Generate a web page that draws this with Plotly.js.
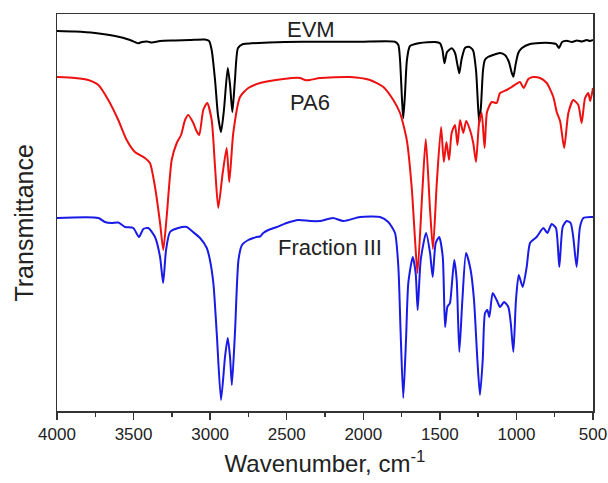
<!DOCTYPE html>
<html>
<head>
<meta charset="utf-8">
<script src="https://cdn.plot.ly/plotly-3.0.1.min.js"></script>
<style>html,body{margin:0;padding:0;background:#fff;}#chart{width:608px;height:483px;}</style>
</head>
<body>
<div id="chart"></div>
<script>
// Wavenumbers (cm-1) and transmittance (arbitrary, offset units)
const evmWn = [4000,3882,3752,3621,3523,3471,3445,3412,3380,3327,3229,3131,3034,3007,2990,2968,2949,2929,2910,2885,2870,2855,2838,2818,2785,2729,2511,2283,2021,1793,1771,1760,1747,1739,1728,1715,1695,1630,1532,1499,1483,1470,1453,1423,1401,1385,1373,1359,1336,1310,1284,1264,1251,1242,1231,1218,1206,1186,1153,1107,1075,1049,1032,1020,1006,988,964,911,846,781,741,722,702,672,637,605,572,541,520,500];
const evmT  = [380,379.5,378,375,371,367.7,369,369.5,368.5,370,370.5,371,371.5,370,361,331,296,279,301,343,326,299,331,363,367,367.7,369,369.3,369.3,369.3,366,351,311,292.7,316,351,365,368,369,367.7,361,347.7,359,362.7,358,346,337.7,351,363,364.3,361,341,306,287.7,306,341,351,354,356,358,356,349,339,334.3,346,358,363,367,368,368,367,363,369,370.3,369,370.5,369.5,371,370,371];

const pa6Wn = [4000,3882,3796,3730,3665,3600,3545,3491,3426,3393,3360,3327,3306,3284,3251,3218,3190,3164,3143,3110,3089,3071,3045,3019,2990,2968,2947,2918,2892,2875,2849,2805,2751,2674,2522,2413,2381,2348,2283,2087,1956,1869,1804,1760,1716,1684,1662,1646,1615,1592,1564,1545,1520,1492,1474,1457,1440,1423,1401,1385,1368,1347,1328,1303,1282,1264,1244,1227,1208,1192,1161,1129,1107,1064,1031,977,953,922,890,846,802,759,737,715,688,661,629,596,574,552,531,518,500];
const pa6T  = [334,333,331,326,311,291,271,259,253,248,224,188,161,194,251,268,276,291,296,288,280,276,301,308,291,244,203,238,263,229,278,314,323,328,332,333,331,331,333,334,331,324,311,298,271,224,171,138,218,272,201,162,228,284,249,269,251,278,286,266,291,278,290,281,268,249,288,298,263,299,309,308,318,321,324,329,323,332,334,333,328,314,299,290,263,298,311,306,288,313,318,310,323];

const fr3Wn = [4000,3730,3687,3643,3600,3556,3502,3465,3436,3404,3360,3327,3307,3288,3262,3208,3153,3112,3066,3022,3004,2979,2957,2929,2903,2885,2870,2858,2838,2815,2792,2751,2718,2696,2674,2653,2620,2565,2500,2424,2348,2283,2198,2130,2021,1891,1837,1793,1771,1756,1739,1721,1706,1677,1658,1645,1625,1590,1564,1547,1527,1504,1481,1466,1451,1434,1423,1406,1390,1373,1353,1329,1299,1277,1255,1238,1220,1205,1190,1177,1155,1129,1107,1081,1053,1037,1020,1003,985,959,933,911,868,824,798,770,742,720,698,672,646,629,607,585,563,508,500];
const fr3T  = [193,193,189,188,188.5,184,183,174,182,183,174,154,128,161,179,183,184,179,173,163,153,128,78,11,54,73,54,26,78,151,166,171,173,174,174.5,178,181,184,188,191,190,190,193,190,194,194,189,178,144,78,13,71,128,154,138,101,151,178,158,134,168,174,154,84,104,108,124,151,131,59,111,158,141,111,51,16,51,98,101,94,118,111,104,109,104,88,59,111,136,124,144,168,174,183,178,187,183,144,184,190,188,174,144,184,193,194,194];

const names = ['EVM', 'PA6', 'Fraction III'];
const xTicks = [4000, 3500, 3000, 2500, 2000, 1500, 1000, 500];

const mk = (x, y, color, name) => ({
  x: x, y: y, type: 'scatter', mode: 'lines', name: name,
  line: {color: color, width: 2, shape: 'spline', smoothing: 0.6},
  hoverinfo: 'x+name'
});

const data = [
  mk(evmWn, evmT, '#000000', names[0]),
  mk(pa6Wn, pa6T, '#ee1111', names[1]),
  mk(fr3Wn, fr3T, '#1a1ae6', names[2])
];

const frame = '#333333';
const layout = {
  width: 608, height: 483,
  margin: {l: 57, r: 15, t: 14, b: 72},
  paper_bgcolor: '#ffffff', plot_bgcolor: '#ffffff',
  showlegend: false,
  font: {family: 'Liberation Sans, Arial, sans-serif', color: '#222'},
  xaxis: {
    range: [4000, 500], autorange: false,
    tickvals: xTicks, ticktext: xTicks.map(String),
    ticks: 'outside', ticklen: 7, tickwidth: 1.5, tickcolor: frame,
    minor: {dtick: 250, tick0: 500, ticks: 'outside', ticklen: 4, tickwidth: 1.5, tickcolor: frame},
    showline: true, linecolor: frame, linewidth: 1.5, mirror: true,
    showgrid: false, zeroline: false,
    tickfont: {size: 17, color: '#222'},
    title: {text: 'Wavenumber, cm<sup>-1</sup>', font: {size: 24, color: '#222'}, standoff: 12}
  },
  yaxis: {
    range: [0, 397], autorange: false,
    showticklabels: false, ticks: '',
    showline: true, linecolor: frame, linewidth: 1.5, mirror: true,
    showgrid: false, zeroline: false
  },
  annotations: [
    {x: -0.062, y: 0.474, xref: 'paper', yref: 'paper', text: 'Transmittance', textangle: -90,
     showarrow: false, font: {size: 25, color: '#222'}, xanchor: 'center', yanchor: 'middle'},
    {x: 2341, y: 381.5, xref: 'x', yref: 'y', text: names[0], showarrow: false, font: {size: 22, color: '#222'}},
    {x: 2348, y: 309, xref: 'x', yref: 'y', text: names[1], showarrow: false, font: {size: 22, color: '#222'}},
    {x: 2217, y: 164, xref: 'x', yref: 'y', text: names[2], showarrow: false, font: {size: 22, color: '#222'}}
  ]
};

Plotly.newPlot('chart', data, layout, {displayModeBar: false, staticPlot: true});
</script>
</body>
</html>
